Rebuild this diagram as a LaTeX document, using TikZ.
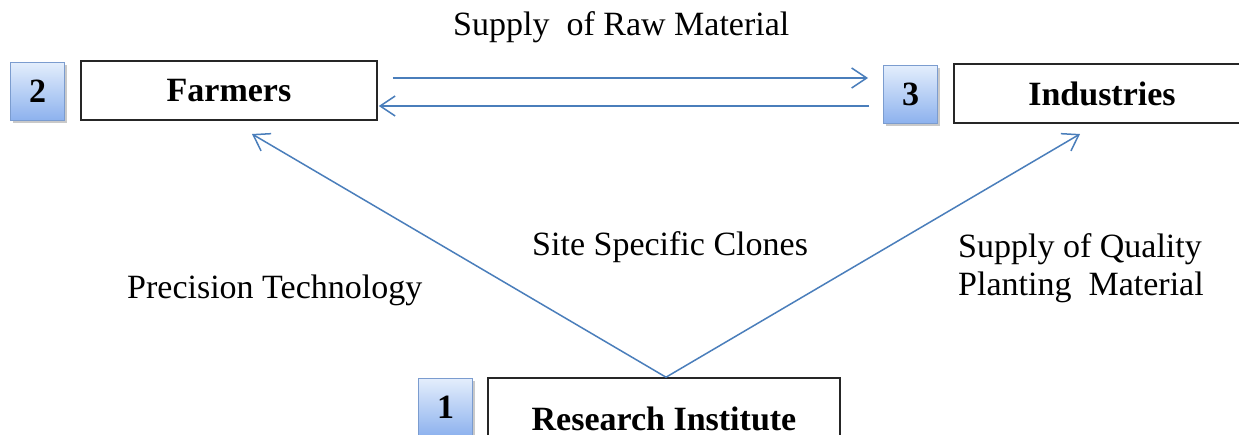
\documentclass[tikz,border=0pt]{standalone}
\usepackage{fontspec}
\setmainfont{Liberation Serif}
\usetikzlibrary{arrows.meta,shadows}
\definecolor{flowblue}{HTML}{4A7EBB}
\definecolor{numtop}{HTML}{E4EEFC}
\definecolor{numbot}{HTML}{8DB2EE}
\definecolor{numborder}{HTML}{7B9CCF}
\tikzset{
  mainbox/.style={draw=black!85, line width=1.6pt, fill=white, minimum width=296pt, minimum height=59pt, inner sep=0pt, font=\fontsize{34}{40}\selectfont\bfseries},
  numbox/.style={draw=numborder, line width=1pt, top color=numtop, bottom color=numbot, minimum width=54pt, minimum height=58pt, inner sep=0pt, font=\fontsize{34}{40}\selectfont\bfseries, drop shadow={shadow xshift=2pt, shadow yshift=-3pt, opacity=0.35, fill=black!60}},
  flow/.style={draw=flowblue, line width=1.5pt, -{Straight Barb[length=15pt,width=20pt,line width=1.5pt]}},
  lbl/.style={font=\fontsize{34}{40}\selectfont, inner sep=0pt}
}
\begin{document}
\begin{tikzpicture}[x=1pt,y=-1pt]
\clip (0,0) rectangle (1239,434);
\fill[white] (0,0) rectangle (1239,434);
% boxes
\node[mainbox] (farmers) at (229,90.5) {Farmers};
\node[numbox] (num2) at (37.5,91) {2};
\node[mainbox] (industries) at (1102,93.5) {Industries};
\node[numbox] (num3) at (910.5,94) {3};
\node[mainbox, minimum width=352pt, minimum height=0pt, inner ysep=27pt, text height=25pt, text depth=0pt, anchor=base] (research) at (664,430) {Research Institute};
\node[numbox] (num1) at (445.5,407) {1};
% helper coordinates
\coordinate (top) at (0,78);
\coordinate (bot) at (0,106);
\coordinate (ftip) at (252,134);
\coordinate (itip) at (1080,134);
\coordinate (apex) at ([xshift=2pt]research.north);
% connectors
\draw[flow, shorten <=15pt, shorten >=15pt] (farmers.east |- top) -- (num3.west |- top);
\draw[flow, shorten <=14pt, shorten >=1pt] (num3.west |- bot) -- (farmers.east |- bot);
\draw[flow] (apex) -- (ftip);
\draw[flow] (apex) -- (itip);
% labels
\node[lbl, anchor=base west] (l1) at (453,35) {Supply\ \ of Raw Material};
\node[lbl, anchor=base west] (l2) at (532,255) {Site Specific Clones};
\node[lbl, anchor=base west] (l3) at (127,298) {Precision Technology};
\node[lbl, anchor=base west, align=left] (l4) at (958,257) {Supply of Quality};
\node[lbl, anchor=base west] (l5) at (958,295) {Planting\ \ Material};
\end{tikzpicture}
\end{document}
